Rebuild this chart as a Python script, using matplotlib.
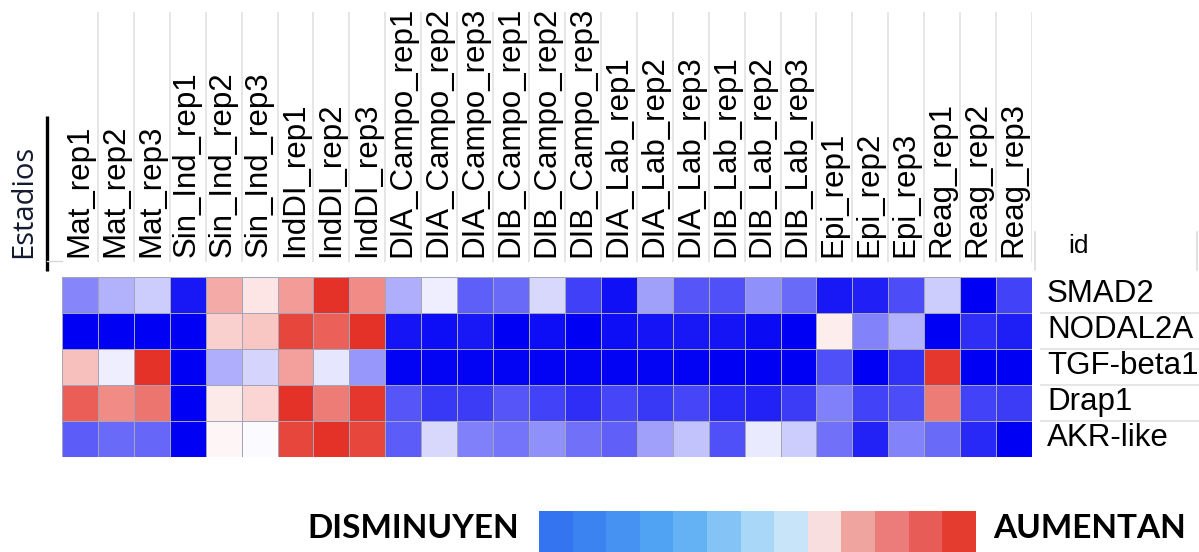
import numpy as np
import matplotlib
matplotlib.use("Agg")
import matplotlib.pyplot as plt
from matplotlib.colors import LinearSegmentedColormap, ListedColormap
from matplotlib.lines import Line2D

# Samples (columns) and genes (rows)
samples = ['Mat_rep1', 'Mat_rep2', 'Mat_rep3',
           'Sin_Ind_rep1', 'Sin_Ind_rep2', 'Sin_Ind_rep3',
           'IndDI_rep1', 'IndDI_rep2', 'IndDI_rep3',
           'DIA_Campo_rep1', 'DIA_Campo_rep2', 'DIA_Campo_rep3',
           'DIB_Campo_rep1', 'DIB_Campo_rep2', 'DIB_Campo_rep3',
           'DIA_Lab_rep1', 'DIA_Lab_rep2', 'DIA_Lab_rep3',
           'DIB_Lab_rep1', 'DIB_Lab_rep2', 'DIB_Lab_rep3',
           'Epi_rep1', 'Epi_rep2', 'Epi_rep3',
           'Reag_rep1', 'Reag_rep2', 'Reag_rep3']
genes = ['SMAD2', 'NODAL2A', 'TGF-beta1', 'Drap1', 'AKR-like']

# Scaled expression (-1 = lowest, +1 = highest)
smad2 = [-0.47, -0.30, -0.20, -0.90, 0.40, 0.12, 0.47, 0.97, 0.55,
         -0.32, -0.07, -0.63, -0.58, -0.15, -0.75, -0.93, -0.37, -0.66,
         -0.68, -0.43, -0.58, -0.90, -0.87, -0.70, -0.20, -1.00, -0.74]
nodal2a = [-1.00, -1.00, -1.00, -1.00, 0.22, 0.27, 0.88, 0.75, 0.97,
           -0.92, -0.94, -0.90, -1.00, -0.94, -1.00, -0.94, -0.92, -0.90,
           -0.92, -0.96, -1.00, 0.08, -0.49, -0.30, -1.00, -0.82, -0.88]
tgf_beta1 = [0.30, -0.07, 0.97, -1.00, -0.32, -0.17, 0.45, -0.10, -0.41,
             -0.99, -0.98, -0.99, -0.98, -0.99, -0.98, -0.99, -0.98, -0.99,
             -1.00, -1.00, -1.00, -0.68, -1.00, -0.80, 0.95, -1.00, -1.00]
drap1 = [0.76, 0.55, 0.65, -1.00, 0.10, 0.20, 0.97, 0.62, 0.95,
         -0.66, -0.78, -0.76, -0.66, -0.74, -0.82, -0.72, -0.78, -0.72,
         -0.84, -0.86, -0.76, -0.50, -0.74, -0.70, 0.62, -0.74, -0.76]
akr_like = [-0.64, -0.58, -0.60, -1.00, 0.04, -0.02, 0.88, 0.97, 0.88,
            -0.64, -0.15, -0.50, -0.54, -0.43, -0.56, -0.62, -0.37, -0.24,
            -0.68, -0.08, -0.20, -0.56, -0.86, -0.49, -0.58, -0.84, -1.00]

# Discrete legend scale (decrease -> increase)
legend_colors = ['#3574F0', '#3B83F0', '#4592F2', '#50A2F3', '#64B2F4',
                 '#84C3F5', '#A8D7F7', '#C8E4F8', '#F8DEDE', '#F0A4A0',
                 '#EC7C7A', '#E85C58', '#E53C30']

data = np.array([smad2, nodal2a, tgf_beta1, drap1, akr_like])
n_rows, n_cols = data.shape

W, H = 1199, 552
fig = plt.figure(figsize=(W / 100, H / 100), dpi=100)
fig.patch.set_facecolor('white')


def fx(px):
    return px / W


def fy(py):
    return 1 - py / H


cmap = LinearSegmentedColormap.from_list(
    'bwr_custom', [(0, 0, 245 / 255), (1, 1, 1), (228 / 255, 45 / 255, 35 / 255)])

# heatmap
ax = fig.add_axes([fx(62), fy(457), fx(970), 180 / H])
ax.pcolormesh(data, cmap=cmap, vmin=-1, vmax=1,
              edgecolors='#a4a4b8', linewidth=0.6)
ax.set_xlim(0, n_cols)
ax.set_ylim(n_rows, 0)
ax.axis('off')

label_font = 'Liberation Sans'

# column header with vertical separators
hdr = fig.add_axes([fx(62), fy(262), fx(970), 250 / H])
hdr.set_xlim(0, n_cols)
hdr.set_ylim(0, 1)
hdr.axis('off')
hdr.vlines(np.arange(1, n_cols + 1), 0, 1, color='#e2e2e2', linewidth=1.2)
for j, s in enumerate(samples):
    hdr.text(j + 0.48, 0.02, s, rotation=90, ha='center', va='bottom',
             fontsize=22.5, family=label_font, color='black')

# row label table on the right
tab = fig.add_axes([fx(1035), fy(457), fx(164), 180 / H])
tab.set_xlim(0, 164)
tab.set_ylim(n_rows, 0)
tab.axis('off')
tab.hlines(np.arange(1, n_rows), 5, 164, color='#e2e2e2', linewidth=1.2)
for i, g in enumerate(genes):
    tab.text(12, i + 0.47, g, ha='left', va='center',
             fontsize=22.5, family=label_font, color='black')

# "id" header cell
fig.add_artist(Line2D([fx(1035), fx(1035)], [fy(232), fy(270)],
                      color='#dcdcdc', linewidth=1.2))
fig.add_artist(Line2D([fx(1197), fx(1197)], [fy(232), fy(270)],
                      color='#dcdcdc', linewidth=1.2))
fig.text(fx(1068), fy(246), 'id', ha='left', va='center',
         fontsize=19, family=label_font, color='black')

# stage label with black bar
fig.text(fx(24), fy(201), 'Estadios', rotation=90, ha='center', va='center',
         fontsize=21, family='Open Sans', color='#141a30')
fig.add_artist(Line2D([fx(47), fx(47)], [fy(116), fy(271)],
                      color='black', linewidth=2.4, solid_capstyle='butt'))
fig.add_artist(Line2D([fx(47), fx(62)], [fy(261), fy(261)],
                      color='#d8d8d8', linewidth=1))

# bottom legend
leg = fig.add_axes([fx(539), 0, fx(436), fy(511)])
leg.imshow([np.arange(len(legend_colors))],
           cmap=ListedColormap(legend_colors),
           aspect='auto', extent=(0, len(legend_colors), 0, 1))
leg.axis('off')

fig.text(fx(519), fy(529), 'DISMINUYEN', ha='right', va='center',
         fontsize=24, family='Lato', fontweight='bold', color='black')
fig.text(fx(993), fy(529), 'AUMENTAN', ha='left', va='center',
         fontsize=24, family='Lato', fontweight='bold', color='black')

fig.savefig('out.png', dpi=100, facecolor='white')
